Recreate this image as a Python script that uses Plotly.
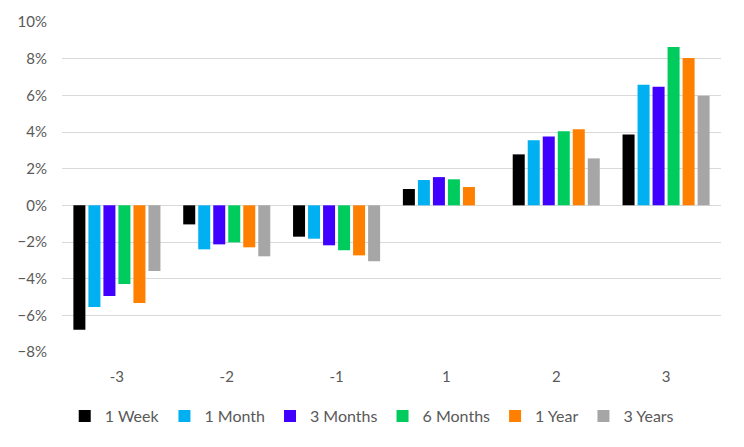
import plotly.graph_objects as go

categories = ["-3", "-2", "-1", "1", "2", "3"]
series_names = ["1 Week", "1 Month", "3 Months", "6 Months", "1 Year", "3 Years"]
week_1 = [-6.78, -1.04, -1.71, 0.89, 2.78, 3.87]
month_1 = [-5.55, -2.40, -1.82, 1.38, 3.55, 6.58]
months_3 = [-4.95, -2.13, -2.18, 1.54, 3.76, 6.47]
months_6 = [-4.29, -2.02, -2.45, 1.42, 4.04, 8.64]
year_1 = [-5.33, -2.29, -2.73, 1.00, 4.15, 8.04]
years_3 = [-3.58, -2.78, -3.05, 0.0, 2.56, 5.98]
colors = ["#000000", "#00B0F0", "#4000FF", "#00CC5E", "#FF8000", "#A6A6A6"]

series_values = [week_1, month_1, months_3, months_6, year_1, years_3]

fig = go.Figure()
for name, vals, col in zip(series_names, series_values, colors):
    fig.add_trace(go.Bar(
        x=categories, y=vals, name=name,
        marker=dict(color=col, line=dict(width=0)),
    ))

font_color = "#595959"
fig.update_layout(
    width=736, height=439,
    paper_bgcolor="white", plot_bgcolor="white",
    margin=dict(l=54, r=23, t=14, b=95),
    barmode="group", bargap=0.18, bargroupgap=0.2,
    font=dict(family="Lato, Carlito, sans-serif", size=15, color=font_color),
    showlegend=True,
    legend=dict(orientation="h", x=0.47, xanchor="center", xref="paper",
                y=-0.194, yanchor="middle", font=dict(size=16, color=font_color),
                itemwidth=30, traceorder="normal"),
    xaxis=dict(type="category", showgrid=False, showline=False, ticks="",
               automargin=False, ticklabelstandoff=14,
               tickfont=dict(size=15, color=font_color)),
    yaxis=dict(range=[-8, 10], dtick=2, ticksuffix="%", showgrid=True,
               gridcolor="#D9D9D9", gridwidth=1, zeroline=False, showline=False,
               automargin=False,
               tickfont=dict(size=15, color=font_color), ticks="", ticklabelstandoff=14),
)

fig.write_html("out.html")
